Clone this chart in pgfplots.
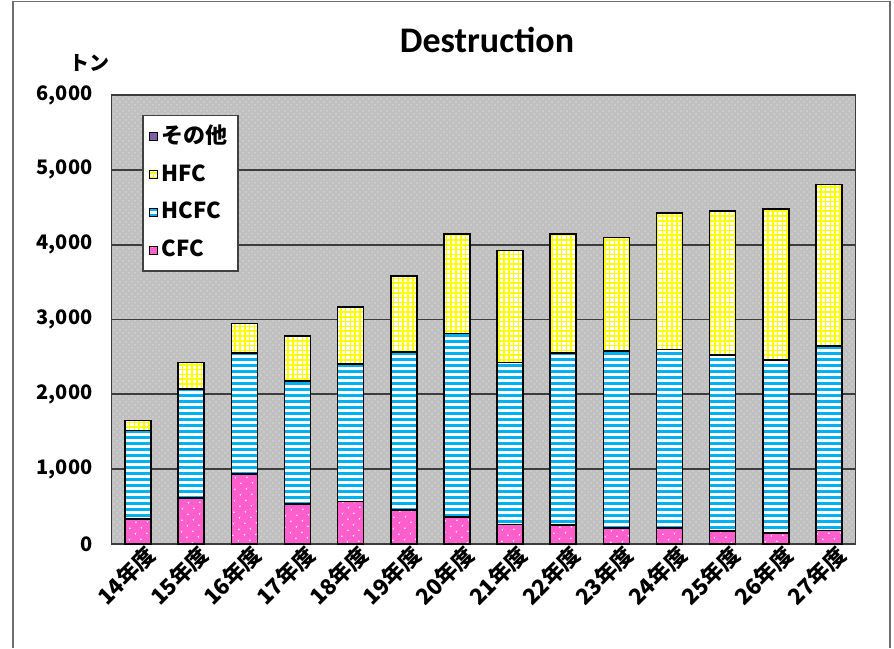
\documentclass[border=0pt]{standalone}
\usepackage{fontspec}
\setmainfont{Noto Sans CJK JP}
\newfontfamily\titlefont{Carlito}
\usepackage{pgfplots}
\pgfplotsset{compat=1.18}
\usepackage{pgfplotstable}
\usetikzlibrary{patterns,patterns.meta}

\definecolor{bgGray}{RGB}{192,192,192}
\definecolor{bgDot}{RGB}{210,210,210}
\definecolor{pinkC}{RGB}{255,95,205}
\definecolor{cyanC}{RGB}{0,176,240}
\definecolor{yellowC}{RGB}{255,255,0}
\definecolor{purpleC}{RGB}{128,96,165}
\definecolor{gridC}{RGB}{60,60,60}
\definecolor{frameC}{RGB}{110,110,110}

\pgfplotstableread{
idx cfc  hcfc hfc
0   335  1180 135
1   616  1453 355
2   938  1611 400
3   538  1642 600
4   569  1833 765
5   458  2109 1017
6   360  2451 1333
7   262  2162 1498
8   257  2292 1595
9   217  2363 1516
10  217  2381 1822
11  177  2350 1924
12  147  2309 2022
13  178  2464 2160
}\datatable

\begin{document}
\begin{tikzpicture}
\path[use as bounding box] (0,0) rectangle (447pt,324pt);
\draw[frameC, line width=0.9pt] (6.35pt,0) -- (6.35pt,323.2pt) -- (445pt,323.2pt) -- (445pt,0);
\node[font=\titlefont\bfseries\fontsize{18}{20}\selectfont] at (243.5pt,304pt) {Destruction};
\begin{axis}[
  at={(55.75pt,52pt)}, anchor=south west,
  scale only axis, width=372pt, height=224.5pt,
  ybar stacked, bar width=13pt,
  xmin=-0.5, xmax=13.5, ymin=0, ymax=6000,
  axis background/.style={fill=bgGray, postaction={pattern=crosshatch dots, pattern color=bgDot}},
  axis line style={draw=gridC, line width=0.9pt},
  xtick={0,...,13},
  xticklabels={14年度,15年度,16年度,17年度,18年度,19年度,20年度,21年度,22年度,23年度,24年度,25年度,26年度,27年度},
  x tick label style={rotate=45, anchor=east, font=\bfseries\fontsize{11}{12}\selectfont, xshift=3pt, yshift=-7pt, inner sep=0.5pt},
  major x tick style={draw=none},
  extra x ticks={0.5,1.5,2.5,3.5,4.5,5.5,6.5,7.5,8.5,9.5,10.5,11.5,12.5},
  extra x tick labels={},
  extra x tick style={grid=none, major tick length=2.5pt, tick align=inside, major tick style={draw=black, line width=0.6pt}},
  ytick={0,1000,2000,3000,4000,5000,6000},
  ymajorgrids, y grid style={draw=gridC, line width=0.9pt},
  major y tick style={draw=none},
  y tick label style={font=\bfseries\fontsize{10}{12}\selectfont, xshift=-6pt},
  /pgf/number format/.cd, 1000 sep={,}, assume math mode=true, /pgfplots/.cd,
  ylabel={トン},
  every axis y label/.style={at={(rel axis cs:0,1)}, anchor=center, xshift=-10.75pt, yshift=16pt, font=\bfseries\fontsize{10}{12}\selectfont},
  reverse legend,
  legend style={at={(0.0414,0.955)}, anchor=north west, draw=black!75, line width=0.6pt, fill=white,
    font=\bfseries\fontsize{11}{13}\selectfont, inner xsep=3pt, inner ysep=3pt,
    nodes={text height=8.5pt, text depth=2pt, inner ysep=2.2pt, inner xsep=2pt},
    cells={anchor=west}, row sep=4pt},
  legend image code/.code={\draw[#1, line width=0.5pt] (0pt,-2pt) rectangle (4pt,2pt);},
]
\addplot[draw=black, line width=0.8pt, fill=pinkC, postaction={pattern={Dots[distance=4pt, radius=0.45pt, angle=45]}, pattern color=white}] table[x=idx, y=cfc] {\datatable};
\addlegendentry{CFC}
\addplot[draw=black, line width=0.8pt, fill=white, postaction={pattern={Lines[angle=0, distance=3pt, line width=1.5pt]}, pattern color=cyanC}] table[x=idx, y=hcfc] {\datatable};
\addlegendentry{HCFC}
\addplot[draw=black, line width=0.8pt, fill=white, postaction={pattern={Hatch[angle=0, distance=2.4pt, line width=0.75pt]}, pattern color=yellowC}] table[x=idx, y=hfc] {\datatable};
\addlegendentry{HFC}
\addlegendimage{draw=black, fill=purpleC}
\addlegendentry{その他}
\end{axis}
\end{tikzpicture}
\end{document}
